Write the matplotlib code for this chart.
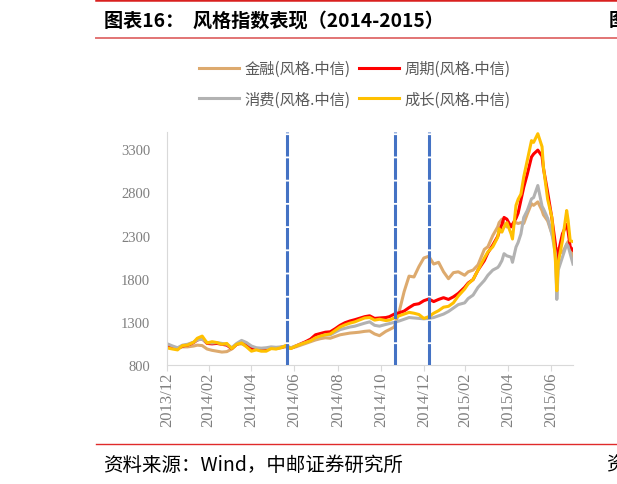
import matplotlib
matplotlib.use('Agg')
import matplotlib.pyplot as plt
from matplotlib.lines import Line2D
import pandas as pd

plt.rcParams['font.family'] = ['Noto Sans CJK SC', 'DejaVu Sans']

# index levels (roughly weekly, denser in 2015)
dates = [
    '2014-01-02', '2014-01-08', '2014-01-15', '2014-01-22', '2014-01-29', '2014-02-07',
    '2014-02-12', '2014-02-19', '2014-02-26', '2014-03-05', '2014-03-12', '2014-03-19',
    '2014-03-26', '2014-04-02', '2014-04-09', '2014-04-16', '2014-04-23', '2014-04-30',
    '2014-05-07', '2014-05-14', '2014-05-21', '2014-05-28', '2014-06-04', '2014-06-11',
    '2014-06-18', '2014-06-25', '2014-07-02', '2014-07-09', '2014-07-16', '2014-07-23',
    '2014-07-30', '2014-08-06', '2014-08-13', '2014-08-20', '2014-08-27', '2014-09-03',
    '2014-09-10', '2014-09-17', '2014-09-24', '2014-09-30', '2014-10-08', '2014-10-15',
    '2014-10-22', '2014-10-29', '2014-11-07', '2014-11-12', '2014-11-19', '2014-11-26',
    '2014-12-03', '2014-12-10', '2014-12-17', '2014-12-24', '2014-12-31', '2015-01-07',
    '2015-01-14', '2015-01-21', '2015-01-28', '2015-02-04', '2015-02-11', '2015-02-18',
    '2015-02-27', '2015-03-04', '2015-03-11', '2015-03-18', '2015-03-27', '2015-04-01',
    '2015-04-08', '2015-04-15', '2015-04-17', '2015-04-21', '2015-04-24', '2015-04-28',
    '2015-05-04', '2015-05-06', '2015-05-11', '2015-05-14', '2015-05-18', '2015-05-22',
    '2015-05-27', '2015-06-02', '2015-06-05', '2015-06-11', '2015-06-17', '2015-06-19',
    '2015-06-25', '2015-07-01', '2015-07-06', '2015-07-08', '2015-07-10', '2015-07-16',
    '2015-07-22', '2015-07-24', '2015-07-27', '2015-07-31',
]
finance = [
    1010, 1000, 995, 1010, 1010, 1020, 1030, 1025, 985, 970, 960, 950,
    955, 985, 1040, 1045, 1020, 995, 990, 985, 985, 995, 990, 1000,
    1010, 995, 1010, 1030, 1050, 1070, 1090, 1105, 1115, 1110, 1130, 1150,
    1160, 1170, 1175, 1180, 1190, 1195, 1160, 1140, 1190, 1210, 1240, 1420,
    1650, 1830, 1820, 1940, 2040, 2060, 1970, 1990, 1880, 1800, 1870, 1880,
    1840, 1880, 1900, 1960, 2140, 2170, 2300, 2400, 2450, 2490, 2440, 2400,
    2410, 2430, 2450, 2440, 2450, 2440, 2550, 2670, 2650, 2690, 2590, 2540,
    2470, 2320, 2180, 1950, 2150, 2100, 2200, 2230, 2140, 2050,
]
cyclical = [
    1030, 1000, 990, 1020, 1030, 1060, 1090, 1105, 1050, 1045, 1050, 1040,
    1030, 990, 1040, 1060, 1030, 990, 985, 975, 985, 1000, 995, 1005,
    1020, 995, 1020, 1045, 1070, 1100, 1150, 1165, 1180, 1185, 1220, 1260,
    1290, 1310, 1325, 1340, 1360, 1370, 1340, 1345, 1350, 1360, 1390, 1405,
    1425, 1465, 1500, 1510, 1545, 1565, 1535, 1560, 1580, 1560, 1590, 1630,
    1700, 1750, 1790, 1900, 2010, 2100, 2190, 2290, 2340, 2430, 2510, 2490,
    2400, 2430, 2500, 2560, 2710, 2860, 3010, 3210, 3245, 3290, 3220, 3080,
    2800, 2500, 2200, 1950, 2100, 2320, 2430, 2350, 2170, 2130,
]
consumer = [
    1040, 1020, 1000, 1030, 1040, 1065, 1090, 1100, 1060, 1055, 1060, 1050,
    1040, 1000, 1050, 1085, 1060, 1020, 1000, 995, 1000, 1010, 1005, 1010,
    1020, 1000, 1020, 1040, 1060, 1080, 1110, 1130, 1150, 1150, 1180, 1210,
    1225, 1240, 1250, 1265, 1285, 1300, 1260, 1250, 1270, 1280, 1295, 1310,
    1330, 1350, 1345, 1340, 1335, 1340, 1350, 1370, 1390, 1420, 1460, 1500,
    1520, 1570, 1610, 1700, 1780, 1840, 1900, 1930, 1950, 2010, 2090, 2065,
    2050, 1990, 2166, 2220, 2320, 2510, 2590, 2725, 2740, 2880, 2640, 2610,
    2500, 2320, 2090, 1560, 1900, 2050, 2200, 2180, 2090, 1970,
]
growth = [
    995, 985, 975, 1025, 1030, 1065, 1110, 1135, 1055, 1070, 1060, 1040,
    1050, 990, 1040, 1055, 1010, 960, 975, 960, 960, 990, 985, 1000,
    1025, 990, 1020, 1040, 1060, 1080, 1115, 1135, 1150, 1160, 1200, 1240,
    1265, 1285, 1300, 1320, 1345, 1350, 1320, 1330, 1315, 1320, 1345, 1370,
    1390, 1410, 1400, 1385, 1340, 1360, 1400, 1430, 1470, 1480, 1520, 1600,
    1680, 1740, 1790, 1900, 2040, 2110, 2170, 2280, 2380, 2340, 2400, 2450,
    2320, 2260, 2650, 2720, 2780, 2980, 3170, 3400, 3380, 3480, 3330, 3090,
    2720, 2510, 2010, 1660, 1990, 2240, 2590, 2480, 2240, 2230,
]

series_names = ['金融(风格.中信)', '周期(风格.中信)', '消费(风格.中信)', '成长(风格.中信)']
series_colors = ['#DDAA6E', '#FF0000', '#B2B2B2', '#FFC000']

tick_dates = ['2013-12-31', '2014-02-28', '2014-04-30', '2014-06-30', '2014-08-31',
              '2014-10-31', '2014-12-31', '2015-02-28', '2015-04-30', '2015-06-30']
tick_labels = ['2013/12', '2014/02', '2014/04', '2014/06', '2014/08',
               '2014/10', '2014/12', '2015/02', '2015/04', '2015/06']
event_dates = ['2014-06-19', '2014-11-20', '2015-01-07']
y_ticks = [800, 1300, 1800, 2300, 2800, 3300]

W, H = 617, 485
fig = plt.figure(figsize=(W / 100, H / 100), dpi=100)
ax = fig.add_axes([167 / W, 1 - 366 / H, (573 - 167) / W, (366 - 133) / H])

x = pd.to_datetime(dates)
handles = []
for vals, name, col in zip([finance, cyclical, consumer, growth], series_names, series_colors):
    ln, = ax.plot(x, vals, color=col, lw=2.2, label=name, solid_joinstyle='round')
    handles.append(ln)

# blue dashed event markers
for d in pd.to_datetime(event_dates):
    ax.axvline(d, color='#4472C4', lw=2.2, dashes=(7, 0.6), zorder=5)

ax.set_xlim(pd.Timestamp('2013-12-31'), pd.Timestamp('2015-07-31'))
ax.set_ylim(800, 3500)
ax.set_yticks(y_ticks)
ax.set_yticklabels([str(v) for v in y_ticks], family='Liberation Serif', fontsize=10.5, color='#7F7F7F')
ax.set_xticks(pd.to_datetime(tick_dates))
ax.set_xticklabels(tick_labels, rotation=90, family='Liberation Serif', fontsize=12, color='#7F7F7F')
ax.tick_params(axis='y', length=0, pad=12)
ax.tick_params(axis='x', length=4, pad=1, color='#D9D9D9')

for s in ['top', 'right']:
    ax.spines[s].set_visible(False)
for s in ['left', 'bottom']:
    ax.spines[s].set_color('#D9D9D9')

leg = fig.legend([handles[0], handles[2], handles[1], handles[3]],
                 [series_names[0], series_names[2], series_names[1], series_names[3]],
                 ncol=2, loc='upper left', bbox_to_anchor=(199 / W, 1 - 61 / H),
                 frameon=False, fontsize=11, handlelength=2.6, handletextpad=0.35,
                 columnspacing=0.6, labelspacing=0.9, borderpad=0, borderaxespad=0)
for t in leg.get_texts():
    t.set_color('#595959')

# header / footer
fig.add_artist(Line2D([96 / W, 1], [1 - 1 / H, 1 - 1 / H], color='#D9201F', lw=1.8))
fig.add_artist(Line2D([96 / W, 1], [1 - 39 / H, 1 - 39 / H], color='#E27474', lw=1.4))
fig.add_artist(Line2D([96 / W, 1], [1 - 445 / H, 1 - 445 / H], color='#E02A2A', lw=1.0))
fig.text(104 / W, 1 - 21 / H, '图表16：  风格指数表现（2014-2015）', fontsize=13.8,
         fontweight='bold', va='center', ha='left')
fig.text(609 / W, 1 - 21 / H, '图表', fontsize=13.5, fontweight='bold', va='center', ha='left')
fig.text(103 / W, 1 - 465 / H, '资料来源：Wind，中邮证券研究所', fontsize=14, va='center', ha='left')
fig.text(606 / W, 1 - 465 / H, '资料', fontsize=14, va='center', ha='left')

fig.savefig('out.png', dpi=100)
